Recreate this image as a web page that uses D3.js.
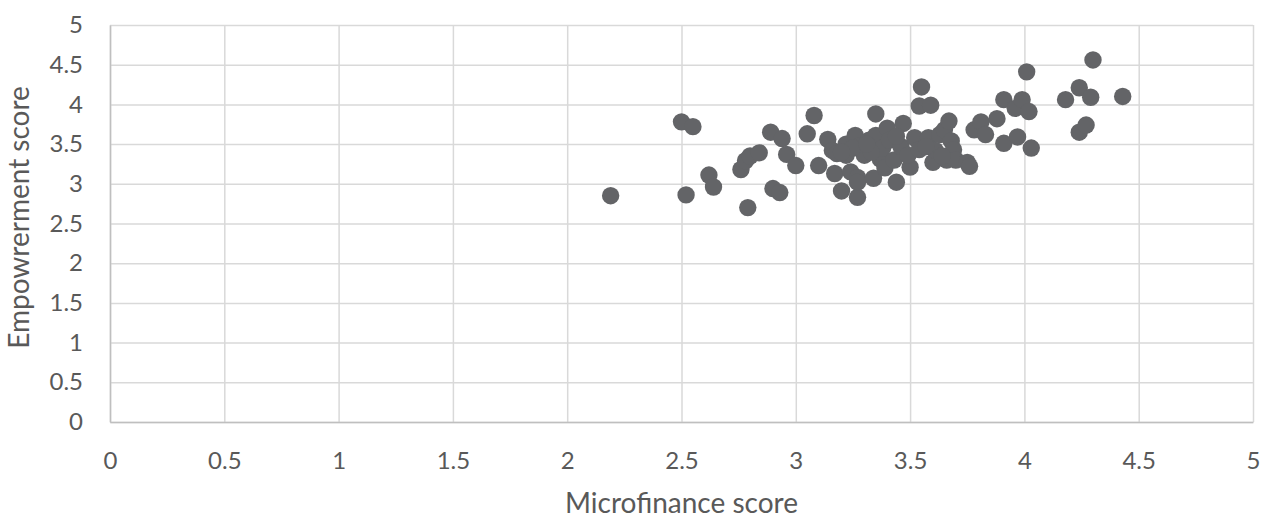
<!DOCTYPE html>
<html>
<head>
<meta charset="utf-8">
<script src="https://cdn.jsdelivr.net/npm/d3@7"></script>
<style>
  body { margin: 0; background: #fff; }
  .vis text { font-family: Lato, 'Open Sans', sans-serif; fill: #595959; }
</style>
</head>
<body>
<div class="vis"></div>
<script>
// microfinance score (x) and empowerment score (y) per respondent
const microfinance = [
    2.19, 2.50, 2.55, 2.52, 2.62, 2.64, 2.79, 2.76, 2.78, 2.80, 2.84, 2.89, 2.94, 2.96, 3.00, 2.90, 2.93,
    3.05, 3.08, 3.10, 3.14, 3.16, 3.17, 3.20, 3.22, 3.26, 3.22, 3.24, 3.27, 3.27, 3.28, 3.27, 3.30,
    3.32, 3.35, 3.37, 3.34, 3.35, 3.38, 3.40, 3.41, 3.39, 3.43, 3.44, 3.46, 3.47, 3.50, 3.52, 3.49,
    3.54, 3.55, 3.54, 3.58, 3.59, 3.60, 3.61, 3.63, 3.65, 3.66, 3.67, 3.68, 3.69, 3.70, 3.64, 3.75,
    3.76, 3.78, 3.81, 3.83, 3.88, 3.91, 3.91, 3.96, 3.97, 3.99, 4.01, 4.02, 4.03, 4.18, 4.24, 4.29,
    4.43, 4.24, 4.27, 4.30, 3.25, 3.33, 3.18, 3.44, 3.57, 3.20, 3.31
];
const empowerment = [
    2.85, 3.78, 3.72, 2.86, 3.11, 2.96, 2.70, 3.18, 3.29, 3.35, 3.39, 3.65, 3.57, 3.37, 3.23, 2.94, 2.89,
    3.63, 3.86, 3.23, 3.56, 3.42, 3.13, 2.91, 3.50, 3.61, 3.36, 3.15, 3.08, 2.83, 3.48, 3.02, 3.36,
    3.55, 3.61, 3.31, 3.07, 3.88, 3.45, 3.70, 3.55, 3.20, 3.30, 3.02, 3.47, 3.76, 3.21, 3.58, 3.36,
    3.98, 4.22, 3.43, 3.58, 3.99, 3.27, 3.42, 3.62, 3.68, 3.30, 3.79, 3.54, 3.43, 3.30, 3.35, 3.27,
    3.22, 3.68, 3.78, 3.62, 3.82, 4.06, 3.51, 3.95, 3.59, 4.06, 4.41, 3.91, 3.45, 4.06, 4.21, 4.09,
    4.10, 3.65, 3.74, 4.56, 3.45, 3.40, 3.38, 3.60, 3.47, 3.40, 3.50
];
const ticks = [0, 0.5, 1, 1.5, 2, 2.5, 3, 3.5, 4, 4.5, 5];

const data = microfinance.map((m, i) => ({ m: m, e: empowerment[i] }));

const margin = { top: 25, right: 8, bottom: 97, left: 110 };
const width = 1261 - margin.left - margin.right,
    height = 519 - margin.top - margin.bottom;

const svg = d3.select('.vis')
    .append('svg')
    .attr('width', 1261)
    .attr('height', 519)
    .append('g')
    .attr('transform', 'translate(' + margin.left + ',' + margin.top + ')');

const xScale = d3.scaleLinear().domain([0, 5]).range([0, width]);
const yScale = d3.scaleLinear().domain([0, 5]).range([height, 0]);

// gridlines
svg.append('g')
    .call(d3.axisLeft(yScale).tickValues(ticks).tickSize(-width).tickFormat(''))
    .call(g => g.select('.domain').remove())
    .selectAll('line').attr('stroke', '#d9d9d9').attr('stroke-width', 1.5);

svg.append('g')
    .attr('transform', 'translate(0,' + height + ')')
    .call(d3.axisBottom(xScale).tickValues(ticks).tickSize(-height).tickFormat(''))
    .call(g => g.select('.domain').remove())
    .selectAll('line').attr('stroke', '#d9d9d9').attr('stroke-width', 1.5);

// axis lines and labels
svg.append('g')
    .call(d3.axisLeft(yScale).tickValues(ticks).tickSize(0).tickPadding(27).tickFormat(d3.format('')))
    .call(g => g.select('.domain').attr('stroke', '#bfbfbf').attr('stroke-width', 1.5))
    .selectAll('text').style('font-size', '24px');

svg.append('g')
    .attr('transform', 'translate(0,' + height + ')')
    .call(d3.axisBottom(xScale).tickValues(ticks).tickSize(0).tickPadding(30).tickFormat(d3.format('')))
    .call(g => g.select('.domain').attr('stroke', '#bfbfbf').attr('stroke-width', 1.5))
    .selectAll('text').style('font-size', '24px');

svg.selectAll('.tick text').attr('fill', '#595959');

svg.append('text')
    .attr('x', xScale(2.5))
    .attr('y', height + 91)
    .attr('text-anchor', 'middle')
    .style('font-size', '28px')
    .text('Microfinance score');

svg.append('text')
    .attr('transform', 'rotate(-90)')
    .attr('x', -(yScale(2.5) - 6))
    .attr('y', -81)
    .attr('text-anchor', 'middle')
    .style('font-size', '28px')
    .text('Empowrerment score');

svg.append('g')
    .selectAll('circle')
    .data(data)
    .join('circle')
    .attr('cx', d => xScale(d.m))
    .attr('cy', d => yScale(d.e))
    .attr('r', 8.7)
    .attr('fill', '#636467');
</script>
</body>
</html>
